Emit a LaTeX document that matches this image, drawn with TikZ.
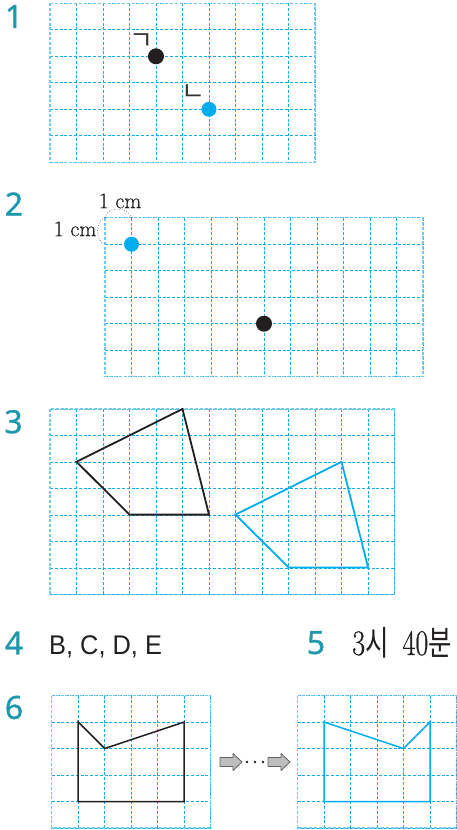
\documentclass[tikz,border=0pt]{standalone}
\usepackage{fontspec}
\setmainfont{Latin Modern Roman}
\newfontfamily\numserif[FakeStretch=0.78,FakeBold=0.6]{Latin Modern Roman}
\newfontfamily\cmserif[FakeBold=0.4]{Latin Modern Roman}
\newfontfamily\krfont{Noto Sans CJK KR}
\newfontfamily\krnarrow[FakeStretch=0.75]{Noto Sans CJK KR}
\newfontfamily\numfont[FakeBold=0.9]{Noto Sans}
\newfontfamily\sansfont[FakeStretch=0.94]{Liberation Sans}
\definecolor{gridblue}{RGB}{20,170,235}
\definecolor{gridframecol}{RGB}{110,200,240}
\definecolor{dotblue}{RGB}{0,174,239}
\definecolor{dotblack}{RGB}{35,31,32}
\definecolor{teal}{RGB}{30,152,172}
\definecolor{arrowfill}{RGB}{190,190,190}
\definecolor{arrowline}{RGB}{95,95,95}
\newcommand\gridpanel[4]{%
  \begin{scope}[shift={(#1,#2)}]
    \foreach \i in {0,...,#3} \draw[gridline] ({\i*26.5},0) -- ({\i*26.5},{#4*26.5});
    \foreach \j in {0,...,#4} \draw[gridline] (0,{\j*26.5}) -- ({#3*26.5},{\j*26.5});
    \draw[gridframe] (0,0) rectangle ({#3*26.5},{#4*26.5});
  \end{scope}}
\begin{document}
\begin{tikzpicture}[x=1pt,y=-1pt,
  gridline/.style={draw=gridblue,line width=0.9pt,dash pattern=on 3pt off 1.8pt},
  gridframe/.style={draw=gridframecol,line width=1.4pt,dash pattern=on 3pt off 1.8pt},
  numlabel/.style={font=\numfont\fontsize{32pt}{34pt}\selectfont,text=teal,inner sep=0pt},
  dotk/.style={circle,fill=dotblack,minimum size=16pt,inner sep=0pt},
  dotb/.style={circle,fill=dotblue,minimum size=15pt,inner sep=0pt},
  shapek/.style={draw=dotblack,line width=1.8pt,line join=miter},
  shapeb/.style={draw=dotblue,line width=1.8pt,line join=miter},
  cmlabel/.style={font=\cmserif\fontsize{22pt}{24pt}\selectfont,text=dotblack,inner sep=0.5pt},
  jamo/.style={font=\krfont\fontsize{26pt}{28pt}\selectfont,text=black!80,inner sep=0pt},
  blockarrow/.style={draw=arrowline,fill=arrowfill,line width=0.8pt,line join=round}]
\useasboundingbox (0,0) rectangle (457,830);

% ---- 1 ----
\node[numlabel] (n1) at (14,16.5) {1};
\gridpanel{50}{3.3}{10}{6}
\node[dotk] (k1) at (156,56.3) {};
\node[dotb] (b1) at (209,109.3) {};
\node[jamo] (g1) at (141,42) {ㄱ};
\node[jamo] (g2) at (193,93) {ㄴ};

% ---- 2 ----
\node[numlabel] (n2) at (14,204) {2};
\gridpanel{105}{217.7}{12}{6}
\draw[dotblack,line width=0.6pt,dotted] (105,217.7) .. controls (107,206) and (129,206) .. (131.5,217.7);
\draw[dotblack,line width=0.6pt,dotted] (105,217.7) .. controls (95,220) and (95,242) .. (105,244.2);
\node[cmlabel,fill=white] (cm1) at (120,201) {1 cm};
\node[cmlabel,fill=white] (cm2) at (75,229) {1 cm};
\node[dotb] (b2) at (131.5,244.2) {};
\node[dotk] (k2) at (264,323.7) {};

% ---- 3 ----
\node[numlabel] (n3) at (13.5,421.7) {3};
\gridpanel{50}{409}{13}{7}
\begin{scope}[shift={(50,409)},x=26.5pt,y=-26.4pt]
  \draw[shapek] (5,0) -- (1,2) -- (3,4) -- (6,4) -- cycle;
  \draw[shapeb] (11,2) -- (7,4) -- (9,6) -- (12,6) -- cycle;
\end{scope}

% ---- 4 and 5 ----
\node[numlabel] (n4) at (14,643) {4};
\node[anchor=base west,inner sep=0pt,font=\sansfont\fontsize{27pt}{29pt}\selectfont,text=dotblack] (t4) at (49,654) {B, C, D, E};
\node[numlabel] (n5) at (316,642.7) {5};
\node[anchor=base west,inner sep=0pt,font=\fontsize{36pt}{38pt}\selectfont,text=dotblack] (t5) at (352,655)
  {{\numserif 3}{\krnarrow\fontsize{34pt}{36pt}\selectfont 시}\hspace{14pt}{\numserif 40}{\krnarrow\fontsize{34pt}{36pt}\selectfont 분}};

% ---- 6 ----
\node[numlabel] (n6) at (14,707.5) {6};
\gridpanel{51.7}{695.5}{6}{5}
\gridpanel{297.5}{695.5}{6}{5}
\begin{scope}[shift={(51.7,695.5)},x=26.5pt,y=-26.5pt]
  \draw[shapek,line width=1.5pt] (1,1) -- (2,2) -- (5,1) -- (5,4) -- (1,4) -- cycle;
\end{scope}
\begin{scope}[shift={(297.5,695.5)},x=26.5pt,y=-26.5pt]
  \draw[shapeb,line width=1.5pt] (1,1) -- (4,2) -- (5,1) -- (5,4) -- (1,4) -- cycle;
\end{scope}
% block arrows
\draw[blockarrow] (220,757.5) -- (233,757.5) -- (233,753.5) -- (242,762) -- (233,770.5) -- (233,766.5) -- (220,766.5) -- cycle;
\draw[blockarrow] (268,757.5) -- (281,757.5) -- (281,753.5) -- (290,762) -- (281,770.5) -- (281,766.5) -- (268,766.5) -- cycle;
\foreach \x in {247,255,263} \fill[dotblack] (\x,762) circle (1.3);
\end{tikzpicture}
\end{document}
